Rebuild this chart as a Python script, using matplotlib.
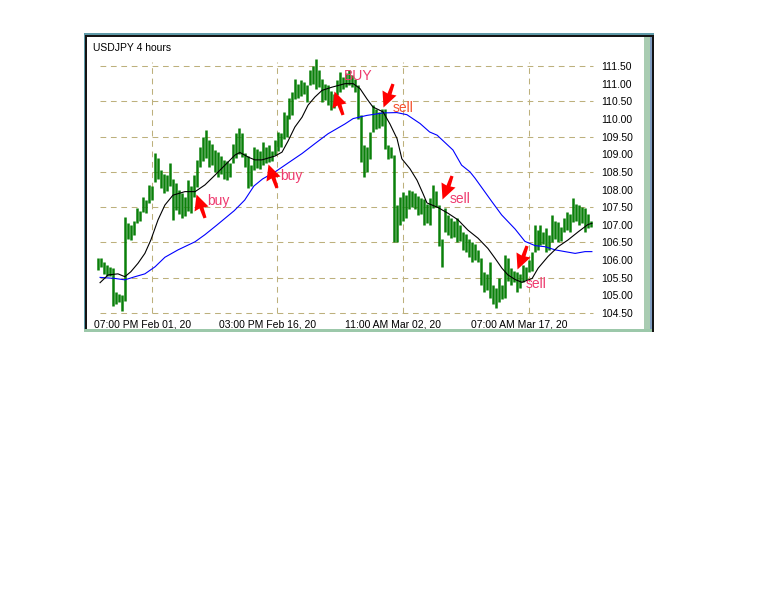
import numpy as np
import matplotlib
matplotlib.use("Agg")
import matplotlib.pyplot as plt
from matplotlib.path import Path
from matplotlib.patches import Rectangle

# ---------------- data ----------------
chart_title = "USDJPY 4 hours"
bar_start = 3
bar_high = [106.07, 106.05, 105.95, 105.85, 105.80, 105.78, 105.10, 105.05, 105.00, 107.23,
            107.05, 107.00, 107.10, 107.47, 107.40, 107.79, 107.70, 108.13, 108.10, 109.03,
            108.90, 108.55, 108.45, 108.40, 108.76, 108.30, 108.18, 107.98, 107.90, 107.80,
            108.27, 108.10, 108.40, 108.83, 109.20, 109.49, 109.69, 109.40, 109.30, 109.12,
            109.05, 108.95, 108.83, 108.80, 108.75, 109.30, 109.60, 109.74, 109.60, 109.03,
            108.95, 108.70, 109.20, 109.15, 109.10, 109.35, 109.20, 109.26, 109.10, 109.40,
            109.63, 109.60, 110.20, 110.10, 110.60, 110.77, 111.13, 111.00, 111.10, 111.05,
            110.96, 111.40, 111.50, 111.71, 111.40, 111.13, 111.00, 110.96, 110.80, 110.70,
            111.10, 111.33, 111.20, 111.30, 111.40, 111.25, 111.13, 110.96, 110.10, 109.26,
            109.20, 109.63, 110.39, 110.28, 110.20, 110.28, 110.28, 109.26, 109.20, 108.98,
            107.56, 107.80, 107.93, 107.85, 108.00, 107.95, 107.90, 107.83, 107.75, 107.73,
            107.60, 107.76, 108.13, 107.95, 107.56, 106.60, 107.47, 107.27, 107.20, 107.10,
            107.19, 107.00, 106.80, 106.75, 106.60, 106.50, 106.45, 106.30, 106.05, 105.66,
            105.60, 105.94, 105.30, 105.20, 105.49, 105.30, 106.14, 106.05, 105.77, 105.70,
            105.66, 105.60, 105.86, 105.80, 106.00, 106.22, 107.00, 106.85, 107.00, 106.80,
            106.90, 106.70, 107.27, 107.10, 107.07, 106.95, 107.20, 107.36, 107.30, 107.76,
            107.60, 107.56, 107.50, 107.47, 107.30, 107.10]
bar_low = [105.72, 105.80, 105.62, 105.55, 105.55, 104.70, 104.75, 104.80, 104.55, 104.85,
           106.60, 106.57, 106.70, 107.05, 107.10, 107.35, 107.33, 107.62, 107.70, 108.20,
           108.30, 108.05, 107.90, 107.95, 108.10, 107.14, 107.42, 107.30, 107.19, 107.25,
           107.40, 107.33, 107.80, 108.07, 108.64, 108.80, 108.90, 108.64, 108.70, 108.50,
           108.36, 108.45, 108.30, 108.27, 108.35, 108.75, 108.90, 109.00, 108.93, 108.64,
           108.04, 108.10, 108.55, 108.60, 108.58, 108.69, 108.75, 108.78, 108.80, 108.98,
           109.10, 109.20, 109.43, 109.50, 110.00, 110.10, 110.57, 110.60, 110.65, 110.70,
           110.48, 110.96, 111.00, 110.86, 110.90, 110.48, 110.55, 110.40, 110.25, 110.30,
           110.68, 110.75, 110.85, 110.90, 110.96, 110.90, 110.76, 110.00, 108.78, 108.35,
           108.50, 108.86, 109.63, 109.72, 109.75, 109.80, 109.15, 108.86, 108.90, 106.50,
           106.50, 107.00, 107.10, 107.20, 107.45, 107.50, 107.45, 107.27, 107.30, 107.00,
           107.05, 107.00, 107.47, 107.50, 106.40, 105.81, 106.80, 106.70, 106.62, 106.65,
           106.50, 106.55, 106.30, 106.24, 106.10, 105.94, 106.00, 105.95, 105.30, 105.10,
           105.15, 104.93, 104.75, 104.65, 104.82, 104.90, 104.93, 105.40, 105.30, 105.38,
           105.10, 105.20, 105.38, 105.45, 105.66, 105.70, 106.22, 106.30, 106.43, 106.45,
           106.22, 106.30, 106.50, 106.60, 106.50, 106.55, 106.80, 106.85, 106.80, 107.07,
           107.10, 107.00, 107.05, 106.80, 106.90, 106.95]

fast_ma_x = [3.6, 6.3, 9.6, 11.9, 13.9, 16.3, 18.6, 20.6, 23.0, 25.3, 28.0, 32.0, 35.4, 38.7,
             42.1, 45.4, 48.8, 50.4, 53.4, 55.4, 57.8, 62.2, 64.5, 66.5, 68.8, 71.2, 73.2,
             75.5, 77.9, 81.2, 85.6, 88.3, 90.6, 92.9, 94.9, 98.3, 100.6, 103.0, 104.6,
             107.3, 109.7, 111.7, 113.0, 116.7, 120.0, 123.4, 126.7, 130.1, 133.4, 135.8,
             138.1, 140.1, 142.5, 144.8, 148.2, 150.2, 153.5, 156.9, 160.2, 163.6, 166.9, 168.2]
fast_ma_y = [105.36, 105.58, 105.61, 105.53, 105.67, 105.91, 106.19, 106.57, 107.14, 107.56,
             107.84, 107.94, 107.94, 108.13, 108.41, 108.69, 108.98, 109.05, 108.91, 108.84,
             108.84, 108.95, 109.06, 109.37, 109.77, 110.05, 110.39, 110.62, 110.81, 110.90,
             111.00, 111.00, 110.86, 110.57, 110.34, 110.20, 109.86, 109.44, 108.87, 108.59,
             108.26, 107.88, 107.62, 107.49, 107.33, 107.14, 106.85, 106.62, 106.33, 106.05,
             105.77, 105.58, 105.45, 105.37, 105.48, 105.77, 106.10, 106.38, 106.57, 106.80,
             107.01, 107.04]

slow_ma_x = [3.6, 8.6, 11.9, 15.3, 18.6, 22.0, 25.3, 29.7, 35.4, 38.7, 42.8, 48.5, 52.0, 55.1,
             58.0, 62.2, 66.5, 71.2, 75.5, 79.9, 85.6, 88.3, 92.9, 98.3, 102.9, 106.3, 110.7,
             113.9, 116.4, 121.7, 124.6, 127.4, 129.1, 134.7, 138.0, 142.5, 145.8, 149.2,
             152.5, 155.9, 159.2, 162.6, 165.9, 168.2]
slow_ma_y = [105.51, 105.48, 105.44, 105.53, 105.61, 105.81, 106.08, 106.29, 106.52, 106.72,
             107.00, 107.40, 107.70, 108.10, 108.30, 108.50, 108.75, 109.02, 109.30, 109.58,
             109.86, 110.01, 110.10, 110.17, 110.18, 110.12, 109.87, 109.63, 109.54, 109.12,
             108.69, 108.50, 108.32, 107.66, 107.28, 106.88, 106.53, 106.41, 106.38, 106.29,
             106.24, 106.19, 106.24, 106.24]

price_ticks = [104.5, 105.0, 105.5, 106.0, 106.5, 107.0, 107.5, 108.0, 108.5, 109.0,
               109.5, 110.0, 110.5, 111.0, 111.5]
price_grid = [104.5, 105.5, 106.5, 107.5, 108.5, 109.5, 110.5, 111.5]
time_grid = [21.0, 62.8, 104.9, 147.1]
time_labels = ["07:00 PM Feb 01, 20", "03:00 PM Feb 16, 20",
               "11:00 AM Mar 02, 20", "07:00 AM Mar 17, 20"]

signal_kind = ["buy", "buy", "buy", "sell", "sell", "sell"]
signal_x = [35.6, 59.9, 81.8, 98.4, 117.9, 143.0]
signal_y = [107.86, 108.71, 110.80, 110.33, 107.73, 105.75]
signal_text = ["buy", "buy", "BUY", "sell", "sell", "sell"]
signal_text_x = [39.4, 63.8, 85.2, 101.6, 120.7, 146.2]
signal_text_y = [107.67, 108.38, 111.22, 110.31, 107.72, 105.32]
signal_text_color = ["#ee3a6e", "#ee3a6e", "#ee3a6e", "#f4502c", "#ee3a6e", "#ee3a6e"]

# ---------------- figure ----------------
W, H = 768, 614
fig = plt.figure(figsize=(W / 100, H / 100), dpi=100)
fig.patch.set_facecolor("white")


def px_rect(x0, y0, x1, y1, color):
    fig.patches.append(Rectangle((x0 / W, 1 - y1 / H), (x1 - x0) / W, (y1 - y0) / H,
                                 transform=fig.transFigure, facecolor=color,
                                 edgecolor="none", zorder=0))


# window frame
px_rect(84, 33, 654, 35, "#5f9aa8")
px_rect(84, 35, 654, 37, "#141414")
px_rect(84, 35, 85, 331, "#5f9aa8")
px_rect(85, 35, 87, 331, "#141414")
px_rect(644, 37, 650, 332, "#a9ccb2")
px_rect(650, 37, 652, 332, "#7f9cc0")
px_rect(652, 35, 654, 332, "#141414")
px_rect(84, 329, 652, 332, "#9cc8aa")

ax_l, ax_r, ax_t, ax_b = 88, 594, 40, 316
ax = fig.add_axes([ax_l / W, 1 - ax_b / H, (ax_r - ax_l) / W, (ax_b - ax_t) / H])
ax.set_facecolor("none")
for s in ax.spines.values():
    s.set_visible(False)

px_per_bar = 2.988
x0_px = 89.3
scale = 35.29  # px per 1.00
ax.set_xlim((ax_l - x0_px) / px_per_bar, (ax_r - x0_px) / px_per_bar)
ax.set_ylim(111.5 - (ax_b - 66) / scale, 111.5 + (66 - ax_t) / scale)

grid_col = "#bdb07c"
gx0 = (100 - x0_px) / px_per_bar
gx1 = (593 - x0_px) / px_per_bar
ax.hlines(price_grid, gx0, gx1, colors=grid_col, linewidth=0.75,
          linestyles=(0, (5.5, 4.5)), zorder=1)
ax.vlines(time_grid, 104.5, 111.5 + 4 / scale, colors=grid_col, linewidth=0.75,
          linestyles=(0, (5.5, 4.5)), zorder=1)

xs = np.arange(bar_start, bar_start + len(bar_high))
ax.vlines(xs, bar_low, bar_high, colors="#0a800a", linewidth=1.8, zorder=2)

ax.plot(slow_ma_x, slow_ma_y, color="#0000ff", linewidth=0.8, zorder=3)
ax.plot(fast_ma_x, fast_ma_y, color="#000000", linewidth=0.8, zorder=3)

buy_verts = [(0, 0), (-2, -17), (3, -14), (7, -24), (10, -23), (7, -13), (12, -12), (0, 0)]
sell_verts = [(0, 0), (-1, 17), (4, 14), (8, 24), (11, 23), (8, 13), (13, 12), (0, 0)]
codes = [Path.MOVETO] + [Path.LINETO] * 6 + [Path.CLOSEPOLY]
buy_marker = Path(buy_verts, codes)
sell_marker = Path(sell_verts, codes)
msize = 2 * 24 * 0.72
for k, x, y in zip(signal_kind, signal_x, signal_y):
    ax.plot([x], [y], marker=buy_marker if k == "buy" else sell_marker,
            markersize=msize, color="#ff0000", markeredgewidth=0, linestyle="none", zorder=5)
for t, x, y, c in zip(signal_text, signal_text_x, signal_text_y, signal_text_color):
    ax.text(x, y, t, color=c, fontsize=10, family="Liberation Sans",
            ha="left", va="center", zorder=6)

# axes ticks
ax.yaxis.tick_right()
ax.set_yticks(price_ticks)
ax.set_yticklabels(["%.2f" % v for v in price_ticks])
ax.set_xticks([g - 3.2 for g in time_grid])
ax.set_xticklabels(time_labels)
ax.tick_params(axis="both", length=0, labelsize=7.5, labelcolor="#000000")
ax.tick_params(axis="y", pad=5)
ax.tick_params(axis="x", pad=2.2)
for lab in ax.get_xticklabels() + ax.get_yticklabels():
    lab.set_family("Liberation Sans")

fig.text(93 / W, 1 - 48 / H, chart_title, fontsize=7.5, family="Liberation Sans",
         ha="left", va="center", color="#000000")

fig.savefig("out.png", dpi=100, facecolor="white")
